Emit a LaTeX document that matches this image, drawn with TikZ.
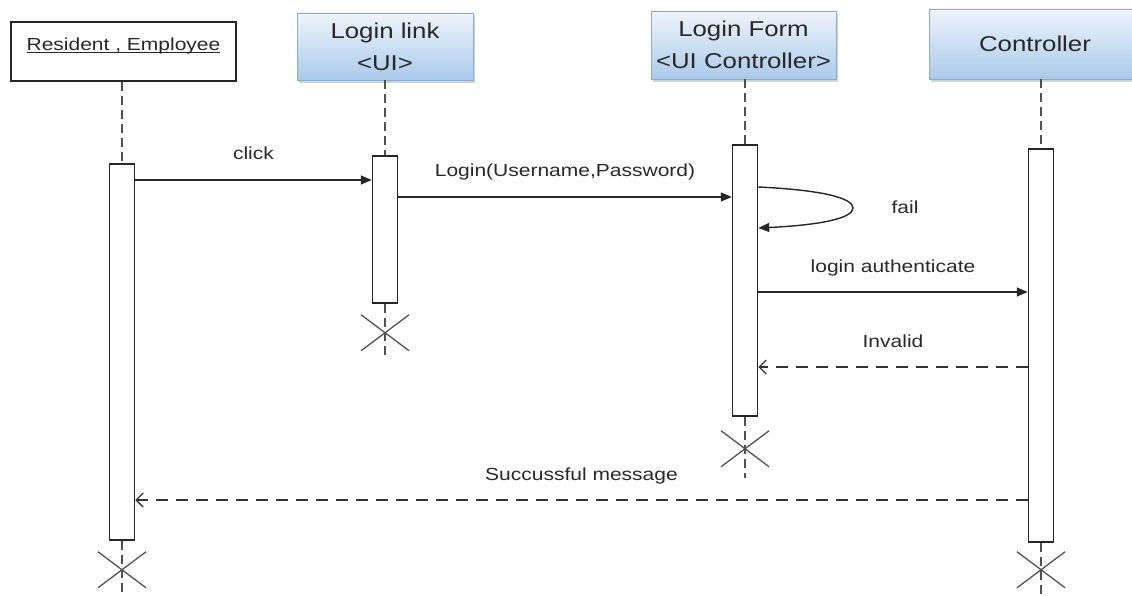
\documentclass[tikz,border=0pt]{standalone}
\usepackage{fontspec}
\setmainfont{Liberation Sans}[FakeStretch=1.2]
\usetikzlibrary{arrows.meta,shadows}
\definecolor{boxtop}{RGB}{238,244,251}
\definecolor{boxbottom}{RGB}{170,202,235}
\definecolor{boxedge}{RGB}{140,172,205}
\definecolor{inkgray}{RGB}{40,40,40}
\definecolor{lifegray}{RGB}{80,80,80}

\tikzset{
    actorbox/.style={draw=black!85, line width=1.6pt, fill=white, inner sep=0pt,
        font=\fontsize{17.5}{21}\selectfont, text=inkgray},
    classbox/.style={draw=boxedge, line width=0.8pt, top color=boxtop, bottom color=boxbottom,
        drop shadow={shadow xshift=2pt, shadow yshift=-3pt, fill=gray!70, opacity=0.5},
        inner sep=0pt, align=center, font=\fontsize{21.5}{32}\selectfont, text=inkgray},
    activebar/.style={draw=black!85, line width=1.5pt, fill=white, minimum width=25pt, inner sep=0pt},
    lifeline/.style={draw=lifegray, line width=2.2pt, dash pattern=on 9pt off 5pt},
    msgcall/.style={draw=black!85, line width=1.4pt, -{Triangle[length=11pt,width=9pt]}},
    msgreply/.style={draw=black!80, line width=1.4pt, dash pattern=on 12pt off 8pt,
        -{Straight Barb[length=7pt,width=14pt]}},
    msglabel/.style={font=\fontsize{17.5}{21}\selectfont, text=inkgray, inner sep=0pt},
    endmark/.style={draw=lifegray, line width=1.3pt}
}

\begin{document}
\begin{tikzpicture}[x=1pt, y=-1pt]
            \useasboundingbox (0,0) rectangle (1132,596);
            % Objects
            \node[actorbox, minimum width=225pt, minimum height=59pt] (resident) at (123.5,51.5) {\underline{\smash{Resident , Employee}}};
            \node[classbox, minimum width=176pt, minimum height=67pt] (loginlink) at (385,46.5) {Login link\\<UI>};
            \node[classbox, minimum width=185pt, minimum height=68pt] (loginform) at (743.5,45) {Login Form\\<UI Controller>};
            \node[classbox, minimum width=212pt, minimum height=70pt] (controller) at (1035,44) {Controller};
            % Activation bars
            \node[activebar, minimum height=376pt] (resbar)  at (122,352)    {};
            \node[activebar, minimum height=147pt] (linkbar) at (385,229.5)  {};
            \node[activebar, minimum height=271pt] (formbar) at (745,280.5)  {};
            \node[activebar, minimum height=393pt] (ctrlbar) at (1041,345.5) {};
            % Lifelines
            \draw[lifeline] (resbar.north |- resident.south)    -- (resbar.north);
            \draw[lifeline] (linkbar.north |- loginlink.south)  -- (linkbar.north);
            \draw[lifeline] (formbar.north |- loginform.south)  -- (formbar.north);
            \draw[lifeline] (ctrlbar.north |- controller.south) -- (ctrlbar.north);
            \draw[lifeline] (resbar.south)  -- ++(0,56);
            \draw[lifeline] (linkbar.south) -- ++(0,55);
            \draw[lifeline] (formbar.south) -- ++(0,61);
            \draw[lifeline] (ctrlbar.south) -- ++(0,56);
            % Destruction marks
            \path (resbar.south)  ++(0,29) coordinate (resend);
            \path (linkbar.south) ++(0,29) coordinate (linkend);
            \path (formbar.south) ++(0,32) coordinate (formend);
            \path (ctrlbar.south) ++(0,27) coordinate (ctrlend);
            \foreach \e in {resend,linkend,formend,ctrlend}
                \draw[endmark] (\e) ++(-24,-18) -- ++(48,36) (\e) ++(-24,18) -- ++(48,-36);
            % Messages
            \draw[msgcall] (resbar.east |- 0,180) -- (linkbar.west |- 0,180)
                node[msglabel, midway, anchor=base, yshift=20pt] (clicktext) {click};
            \draw[msgcall] (linkbar.east |- 0,197) -- (formbar.west |- 0,197)
                node[msglabel, midway, anchor=base, yshift=20pt] (logintext) {Login(Username,Password)};
            \draw[msgcall] (formbar.east |- 0,187) .. controls (822,190) and (853,198) .. (853,208)
                .. controls (853,218) and (822,225) .. (formbar.east |- 0,228);
            \node[msglabel] (failtext) at (905,207) {fail};
            \draw[msgcall] (formbar.east |- 0,292) -- (ctrlbar.west |- 0,292)
                node[msglabel, midway, anchor=base, yshift=20pt] (authtext) {login authenticate};
            \draw[msgreply] (ctrlbar.west |- 0,367) -- (formbar.east |- 0,367)
                node[msglabel, midway, anchor=base, yshift=20pt] (invalidtext) {Invalid};
            \draw[msgreply] (ctrlbar.west |- 0,500) -- (resbar.east |- 0,500)
                node[msglabel, midway, anchor=base, yshift=20pt] (successtext) {Succussful message};
\end{tikzpicture}
\end{document}
